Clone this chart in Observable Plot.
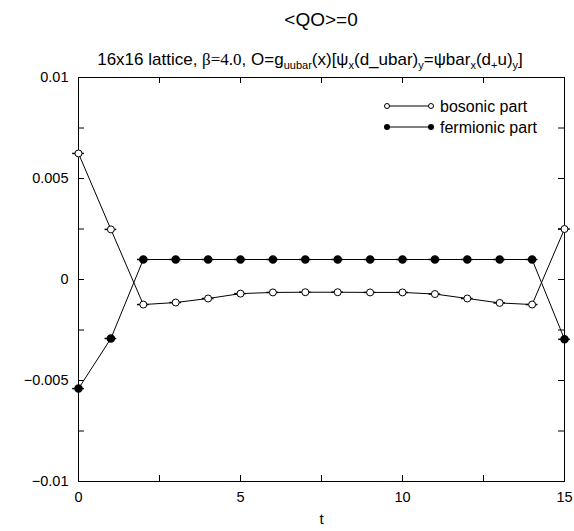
<!DOCTYPE html>
<html><head><meta charset="utf-8">
<script src="https://cdn.jsdelivr.net/npm/d3@7"></script>
<script src="https://cdn.jsdelivr.net/npm/@observablehq/plot@0.6"></script>
<style>
body{margin:0;background:#fff;font-family:"Liberation Sans",Arial,sans-serif;}
#wrap{position:relative;width:574px;height:531px;}
#title{position:absolute;left:78px;width:486px;top:8px;text-align:center;font-size:19px;line-height:24px;}
#sub{position:absolute;left:20px;width:580px;top:50px;text-align:center;font-size:17px;line-height:19px;white-space:nowrap;}
#sub sub{font-size:11px;vertical-align:-4px;line-height:0;}
#sub .serif{font-family:"Liberation Serif","Times New Roman",serif;}
#legend{position:absolute;left:380px;top:96px;}
</style></head>
<body>
<div id="wrap">
<div id="chart"></div>
<div id="title">&lt;QO&gt;=0</div>
<div id="sub">16x16 lattice, <span class="serif">β=4.0</span>, O=g<sub>uubar</sub>(x)[ψ<sub>x</sub>(d_ubar)<sub>y</sub>=ψbar<sub>x</sub>(d<sub>+</sub>u)<sub>y</sub>]</div>
<svg id="legend" width="190" height="45" font-family="Liberation Sans, Arial, sans-serif" font-size="16">
  <line x1="7" y1="10" x2="51" y2="10" stroke="black"/>
  <circle cx="7" cy="10" r="2.5" fill="white" stroke="black"/>
  <circle cx="51" cy="10" r="2.5" fill="white" stroke="black"/>
  <text x="60" y="15.5">bosonic part</text>
  <line x1="7" y1="31" x2="51" y2="31" stroke="black"/>
  <circle cx="7" cy="31" r="3" fill="black"/>
  <circle cx="51" cy="31" r="3" fill="black"/>
  <text x="60" y="36.5">fermionic part</text>
</svg>
</div>
<script>
const t = [0,1,2,3,4,5,6,7,8,9,10,11,12,13,14,15];
const bosonic = [0.00624,0.00248,-0.00124,-0.00114,-0.00094,-0.00070,-0.00064,-0.00063,-0.00063,-0.00064,-0.00064,-0.00072,-0.00094,-0.00116,-0.00124,0.00250];
const fermionic = [-0.00540,-0.00292,0.00099,0.00099,0.00099,0.00099,0.00099,0.00099,0.00099,0.00099,0.00099,0.00099,0.00099,0.00099,0.00099,-0.00296];
const xTicksMinor = [0,2.5,5,7.5,10,12.5,15];
const xTicksLabel = [0,5,10,15];
const yTicksMinor = [-0.01,-0.0075,-0.005,-0.0025,0,0.0025,0.005,0.0075,0.01];
const yTicksLabel = [-0.01,-0.005,0,0.005,0.01];

const bos = t.map((v,i)=>({t:v, y:bosonic[i]}));
const fer = t.map((v,i)=>({t:v, y:fermionic[i]}));
const fmt = d => d===0 ? "0" : String(+d.toFixed(4)).replace("-","−");
const bar = 0.18;

const W = 574, H = 531, mL = 78, mR = 10, mT = 77, mB = 50, tk = 6;
const innerW = W - mL - mR, innerH = H - mT - mB;

const chart = Plot.plot({
  width:W, height:H,
  marginLeft:mL, marginRight:mR, marginTop:mT, marginBottom:mB,
  style:{fontFamily:"Liberation Sans, Arial, sans-serif", fontSize:"14px", color:"black", background:"white"},
  x:{domain:[0,15], axis:null},
  y:{domain:[-0.01,0.01], axis:null},
  marks:[
    Plot.frame({stroke:"black"}),
    Plot.tickX(xTicksMinor, {x:d=>d, insetTop:innerH - tk, stroke:"black"}),
    Plot.tickX(xTicksMinor, {x:d=>d, insetBottom:innerH - tk, stroke:"black"}),
    Plot.tickY(yTicksMinor, {y:d=>d, insetRight:innerW - tk, stroke:"black"}),
    Plot.tickY(yTicksMinor, {y:d=>d, insetLeft:innerW - tk, stroke:"black"}),
    Plot.axisX({ticks:xTicksLabel, tickSize:0, tickPadding:10, tickFormat:d=>String(d), anchor:"bottom", label:null, fontSize:14.5}),
    Plot.axisY({ticks:yTicksLabel, tickSize:0, tickPadding:10, tickFormat:fmt, anchor:"left", label:null, fontSize:14.5}),
    Plot.text(["t"], {frameAnchor:"bottom", dy:42, fontSize:15}),
    Plot.line(bos, {x:"t", y:"y", stroke:"black", strokeWidth:1}),
    Plot.line(fer, {x:"t", y:"y", stroke:"black", strokeWidth:1}),
    Plot.ruleY(bos, {y:"y", x1:d=>d.t-bar, x2:d=>d.t+bar, stroke:"black", strokeWidth:1.5}),
    Plot.ruleY(fer, {y:"y", x1:d=>d.t-bar, x2:d=>d.t+bar, stroke:"black", strokeWidth:1.5}),
    Plot.dot(bos, {x:"t", y:"y", r:3.5, fill:"white", stroke:"black", strokeWidth:1}),
    Plot.dot(fer, {x:"t", y:"y", r:3.5, fill:"black", stroke:"black"})
  ]
});
document.getElementById("chart").appendChild(chart);
</script>
</body></html>
